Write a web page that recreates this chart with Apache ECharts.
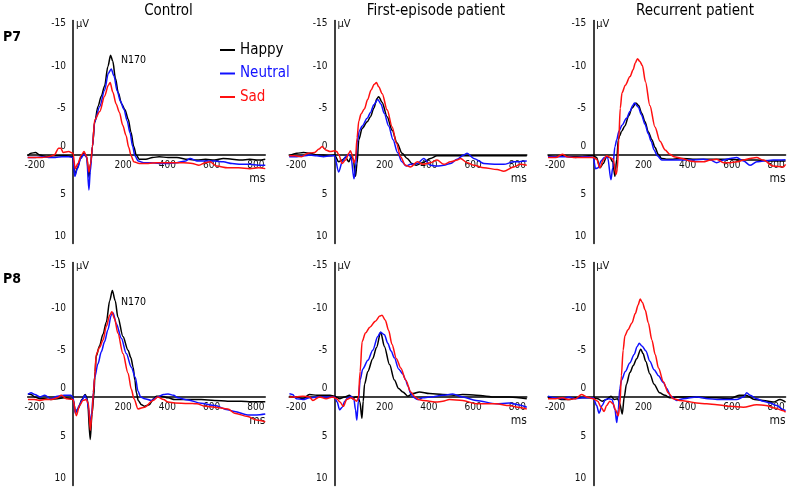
<!DOCTYPE html>
<html><head><meta charset="utf-8">
<script src="https://cdn.jsdelivr.net/npm/echarts@6/dist/echarts.min.js"></script>
<style>html,body{margin:0;padding:0;background:#fff}#c{width:788px;height:487px}</style>
</head><body><div id="c"></div>
<script>
// ---------- data ----------
const conditions = ['Happy', 'Neutral', 'Sad'];
const groups = ['Control', 'First-episode patient', 'Recurrent patient'];
const electrodes = ['P7', 'P8'];
const xTickValues = [-200, 200, 400, 600, 800];
const yTickValues = [-15, -10, -5, 0, 5, 10];
const peakLabel = 'N170';
const xUnit = 'ms';
const yUnit = 'μV';

const controlP7Happy = [[-205,0.1],[-190,-0.2],[-170,-0.3],[-150,0],[-120,0.2],[-90,0.1],[-60,0.1],[-30,0.1],[0,0.2],[8,2.3],[20,1.5],[35,0.3],[50,-0.2],[62,0.2],[72,2.6],[80,1.0],[88,-1.0],[98,-3.8],[113,-5.7],[128,-6.9],[143,-8.1],[158,-10.4],[170,-11.7],[180,-11.0],[192,-9.0],[205,-7.3],[220,-6.0],[235,-5.3],[250,-4.2],[262,-2.7],[275,-1.0],[286,0.0],[300,0.5],[330,0.5],[360,0.3],[390,0.2],[430,0.3],[470,0.3],[520,0.5],[560,0.6],[600,0.5],[640,0.6],[680,0.4],[720,0.5],[760,0.6],[800,0.5],[840,0.6],[870,0.5]];
const controlP7Neutral = [[-205,0.3],[-170,0.3],[-140,0.2],[-110,0.3],[-80,0.3],[-50,0.2],[-20,0.2],[0,0.3],[8,2.5],[20,1.6],[35,0.4],[50,-0.1],[62,0.3],[72,4.1],[78,2.0],[88,-1.0],[98,-3.9],[121,-5.7],[143,-7.6],[160,-9.6],[173,-10.1],[185,-9.3],[200,-7.5],[215,-6.3],[230,-5.4],[245,-4.0],[258,-2.6],[270,-1.0],[280,0.1],[295,0.7],[320,0.9],[350,0.9],[390,1.0],[430,1.0],[470,0.9],[510,0.7],[530,0.4],[560,0.7],[600,0.7],[640,0.7],[680,0.8],[720,1.0],[760,1.1],[800,1.1],[840,1.2],[870,1.2]];
const controlP7Sad = [[-205,0.3],[-170,0.3],[-140,0.3],[-110,0.2],[-85,0.0],[-65,-0.8],[-55,-0.8],[-45,-0.3],[-20,-0.4],[0,-0.2],[10,1.6],[22,1.0],[38,0.0],[50,-0.4],[62,0.2],[72,2.0],[80,1.0],[88,-1.0],[98,-4.1],[121,-5.1],[143,-6.9],[160,-8.2],[168,-8.5],[180,-7.4],[195,-6.0],[210,-5.0],[225,-3.5],[240,-2.3],[252,-0.9],[263,0.1],[275,0.8],[300,1.0],[340,1.0],[380,0.9],[420,0.9],[460,0.9],[500,0.9],[540,1.0],[570,1.2],[600,0.9],[620,0.8],[650,1.3],[700,1.5],[750,1.5],[800,1.6],[840,1.5],[870,1.6]];

const firstP7Happy = [[-205,0.1],[-170,-0.2],[-140,-0.3],[-110,-0.2],[-80,0.0],[-50,0.0],[-20,0.1],[0,0.0],[19,0.8],[35,0.6],[50,0.3],[65,0.8],[75,0.2],[85,0.5],[95,2.5],[102,1.0],[110,-1.8],[125,-3.1],[148,-3.9],[163,-4.5],[178,-5.5],[192,-6.6],[200,-6.85],[215,-6.2],[238,-4.5],[261,-2.9],[283,-1.4],[306,-0.2],[329,0.4],[350,1.0],[370,1.2],[400,0.9],[434,0.4],[464,0.1],[495,0.1],[530,0.1],[600,0.1],[700,0.1],[800,0.1],[870,0.1]];
const firstP7Neutral = [[-205,0.2],[-170,0.2],[-140,0.1],[-110,0.0],[-80,0.1],[-50,0.2],[-20,0.1],[0,0.1],[19,2.0],[35,0.8],[50,0.2],[65,-0.1],[75,0.3],[88,2.8],[95,1.5],[103,-1.5],[112,-2.8],[125,-3.4],[148,-4.3],[163,-5.0],[178,-5.9],[196,-6.5],[210,-6.0],[225,-4.9],[245,-3.4],[265,-1.8],[285,-0.3],[305,0.8],[325,1.3],[344,1.1],[374,1.0],[404,0.4],[434,1.2],[464,1.3],[495,1.2],[525,1.0],[555,0.5],[585,0.0],[600,-0.2],[630,0.4],[676,1.0],[736,1.1],[766,1.1],[811,0.8],[870,0.7]];
const firstP7Sad = [[-205,0.1],[-180,0.1],[-150,0.2],[-120,-0.2],[-90,-0.3],[-70,-0.7],[-56,-1.0],[-40,-0.6],[-20,-0.4],[0,-0.5],[10,-0.4],[20,0.0],[34,1.0],[50,0.6],[65,-0.2],[72,-0.5],[80,0.0],[88,0.9],[95,0.5],[102,-2.0],[110,-4.0],[120,-4.8],[135,-5.4],[150,-6.5],[165,-7.6],[180,-8.3],[190,-8.5],[200,-8.0],[216,-7.2],[238,-5.3],[261,-3.3],[280,-1.4],[299,0.2],[321,1.2],[344,1.4],[375,0.8],[400,1.1],[434,0.9],[464,0.6],[495,1.1],[525,0.8],[555,0.6],[570,0.4],[600,0.9],[630,1.2],[676,1.5],[736,1.7],[766,1.9],[811,1.4],[841,1.1],[870,1.2]];

const recurrentP7Happy = [[-205,0.1],[-170,0.2],[-140,0.1],[-110,0.2],[-80,0.2],[-50,0.2],[-20,0.1],[0,0.1],[15,0.3],[30,1.5],[45,1.0],[60,0.2],[75,0.3],[88,0.8],[98,2.5],[106,0.5],[113,-1.8],[120,-2.3],[128,-2.8],[143,-3.4],[160,-4.6],[175,-5.5],[193,-6.1],[205,-5.8],[219,-4.9],[234,-3.9],[249,-2.7],[265,-1.8],[279,-0.9],[294,-0.1],[309,0.4],[330,0.5],[360,0.5],[400,0.4],[450,0.5],[500,0.5],[560,0.5],[620,0.5],[680,0.6],[740,0.6],[800,0.7],[870,0.7]];
const recurrentP7Neutral = [[-205,0.2],[-170,0.2],[-140,0.2],[-110,0.2],[-80,0.3],[-50,0.2],[-20,0.2],[0,0.3],[10,1.6],[22,1.5],[35,0.7],[50,0.3],[65,0.3],[80,2.9],[88,1.5],[98,-1.0],[106,-1.8],[116,-2.8],[130,-3.5],[150,-4.3],[166,-5.1],[178,-5.8],[186,-6.1],[204,-5.6],[218,-4.7],[234,-3.6],[249,-2.5],[262,-1.6],[275,-0.6],[290,0.1],[310,0.6],[347,0.6],[400,0.6],[437,0.6],[498,0.5],[530,0.6],[558,0.9],[590,0.6],[619,0.4],[649,0.3],[680,0.7],[709,1.2],[740,0.8],[769,0.7],[814,0.6],[870,0.55]];
const recurrentP7Sad = [[-205,0.3],[-170,0.3],[-140,-0.1],[-120,0.2],[-90,0.3],[-60,0.3],[-30,0.3],[0,0.3],[15,0.5],[30,1.5],[45,0.6],[60,0.1],[75,0.3],[90,0.5],[103,2.3],[109,1.6],[115,-1.8],[122,-5.5],[130,-7.3],[145,-8.2],[166,-9.2],[180,-10.0],[190,-10.8],[200,-11.3],[210,-11.0],[222,-10.5],[236,-8.6],[256,-5.8],[279,-3.3],[302,-1.6],[325,-0.6],[345,-0.1],[365,0.2],[400,0.4],[437,0.7],[470,0.8],[498,0.8],[530,0.6],[558,0.5],[590,0.9],[620,0.9],[650,0.8],[680,0.6],[709,0.4],[739,0.3],[769,0.6],[814,1.3],[860,1.4],[870,1.1]];

const controlP8Happy = [[-204,-0.35],[-190,-0.3],[-173,0.0],[-150,0.2],[-128,0.2],[-100,0.3],[-70,0.2],[-40,0.1],[-10,0.2],[0,0.3],[12,1.8],[25,1.3],[40,0.3],[55,-0.3],[65,0.2],[78,5.0],[86,2.0],[94,0.0],[100,-3.0],[105,-4.8],[120,-6.0],[136,-7.4],[151,-8.8],[166,-11.3],[178,-12.5],[191,-11.3],[203,-9.4],[226,-7.1],[249,-5.5],[262,-4.6],[272,-3.5],[280,-2.0],[287,-0.5],[295,0.4],[310,0.9],[324,1.1],[345,0.9],[365,0.2],[377,-0.1],[400,-0.1],[430,0.1],[460,0.3],[520,0.3],[580,0.3],[641,0.4],[700,0.5],[760,0.5],[807,0.55],[870,0.55]];
const controlP8Neutral = [[-204,-0.3],[-190,-0.5],[-173,-0.3],[-150,0.0],[-128,-0.2],[-100,0.2],[-70,-0.1],[-40,-0.2],[-10,-0.2],[0,0.0],[10,1.9],[20,1.4],[30,0.9],[42,0.3],[53,-0.2],[62,0.2],[72,1.5],[78,3.4],[85,1.8],[92,-0.5],[98,-2.3],[113,-3.9],[128,-5.3],[143,-6.5],[158,-7.9],[173,-9.6],[181,-9.9],[196,-8.6],[219,-6.9],[241,-5.1],[264,-3.5],[282,-2.3],[294,-0.7],[306,0.0],[324,0.2],[354,0.4],[384,0.0],[410,-0.3],[430,-0.35],[455,-0.2],[475,0.1],[520,0.35],[580,0.74],[641,1.0],[700,1.5],[731,1.7],[791,2.1],[830,2.1],[870,2.0]];
const controlP8Sad = [[-204,0.3],[-173,0.3],[-150,0.4],[-128,0.3],[-100,0.3],[-70,0.1],[-53,-0.2],[-30,0.2],[0,0.3],[15,2.2],[30,1.0],[45,0.4],[60,0.3],[70,0.8],[78,3.9],[86,2.0],[92,-0.5],[98,-2.3],[105,-5.0],[120,-5.8],[136,-6.7],[151,-8.3],[166,-9.6],[176,-10.0],[188,-9.2],[203,-7.5],[226,-5.1],[249,-2.8],[264,-0.9],[276,0.2],[294,1.4],[324,1.2],[362,0.4],[384,0.0],[410,0.3],[430,0.6],[460,0.7],[520,0.75],[560,0.8],[600,1.1],[641,1.2],[701,1.4],[731,1.9],[791,2.3],[830,2.7],[870,2.9]];

const firstP8Happy = [[-204,-0.1],[-173,0.0],[-143,0.2],[-113,-0.3],[-80,-0.2],[-50,-0.2],[-20,-0.2],[0,-0.1],[23,0.2],[46,0.0],[68,-0.2],[83,0.2],[95,0.0],[106,0.0],[115,0.6],[124,2.5],[130,0.5],[136,-1.5],[151,-3.0],[173,-4.5],[190,-5.8],[209,-7.6],[226,-5.9],[249,-3.8],[271,-2.0],[290,-1.0],[309,-0.6],[332,-0.1],[355,-0.4],[384,-0.6],[430,-0.4],[490,-0.3],[540,-0.2],[580,-0.3],[641,-0.2],[731,0.0],[791,0.0],[870,0.2]];
const firstP8Neutral = [[-204,-0.4],[-190,-0.3],[-173,0.2],[-143,0.3],[-113,0.1],[-80,0.0],[-50,0.0],[-20,0.0],[0,0.0],[12,0.6],[23,1.5],[35,1.2],[46,0.5],[60,0.1],[75,-0.1],[88,0.3],[95,1.5],[101,2.7],[108,0.5],[116,-2.0],[128,-3.3],[151,-4.3],[173,-5.5],[196,-7.1],[208,-7.6],[226,-7.3],[241,-6.3],[256,-5.4],[271,-4.6],[290,-3.3],[309,-2.7],[322,-2.0],[332,-1.3],[345,-0.4],[355,0.0],[377,0.3],[400,0.1],[430,0.0],[490,-0.2],[535,-0.35],[580,0.0],[641,0.4],[731,0.8],[791,0.7],[830,0.9],[870,1.2]];
const firstP8Sad = [[-204,0.0],[-173,0.0],[-143,-0.1],[-113,0.0],[-98,0.4],[-68,0.0],[-38,0.2],[-8,0.0],[10,0.2],[25,0.6],[40,1.1],[55,0.3],[75,0.1],[90,0.3],[100,0.5],[108,0.1],[116,-3.0],[125,-6.5],[140,-7.5],[160,-8.2],[185,-8.9],[205,-9.5],[215,-9.6],[230,-9.0],[245,-7.8],[260,-6.2],[280,-4.5],[300,-3.4],[322,-2.0],[345,-0.6],[365,0.0],[380,0.3],[400,0.4],[430,0.5],[460,0.6],[490,0.5],[520,0.3],[580,0.4],[641,0.8],[731,0.8],[791,1.0],[830,1.2],[870,1.4]];

const recurrentP8Happy = [[-205,0.1],[-170,0.1],[-140,0.3],[-110,0.3],[-80,0.1],[-50,0.1],[-20,0.1],[0,0.1],[20,0.2],[40,0.5],[60,0.3],[80,-0.1],[95,0.3],[110,0.2],[120,0.8],[131,2.0],[140,0.0],[150,-1.5],[166,-2.9],[181,-3.7],[196,-4.5],[215,-5.6],[225,-5.1],[237,-4.2],[256,-2.7],[275,-1.5],[300,-0.5],[324,-0.2],[347,0.1],[377,0.0],[420,0.0],[468,0.0],[520,0.1],[558,0.1],[619,0.2],[660,-0.2],[690,-0.2],[730,0.3],[769,0.4],[814,0.6],[845,0.3],[870,0.6]];
const recurrentP8Neutral = [[-205,-0.1],[-170,0.1],[-140,0.2],[-110,0.0],[-80,0.2],[-50,0.1],[-20,0.1],[0,0.1],[15,1.0],[26,1.9],[40,1.0],[55,0.3],[70,0.2],[85,0.3],[98,1.5],[106,3.0],[113,1.5],[120,-1.0],[128,-2.0],[145,-3.0],[165,-4.0],[185,-5.0],[198,-5.9],[208,-6.3],[220,-6.0],[238,-5.4],[256,-4.2],[275,-3.2],[295,-2.5],[317,-1.7],[332,-1.0],[350,-0.1],[377,0.4],[407,0.2],[468,0.0],[520,0.2],[560,0.3],[619,0.3],[649,0.3],[680,0.0],[694,-0.5],[710,-0.2],[739,0.2],[769,0.5],[799,0.7],[830,1.0],[860,1.5],[870,1.6]];
const recurrentP8Sad = [[-205,0.2],[-170,0.2],[-140,0.1],[-110,0.3],[-80,0.2],[-53,-0.3],[-30,0.0],[0,0.2],[20,0.5],[35,1.2],[49,1.7],[60,1.0],[75,0.5],[90,0.8],[100,1.5],[113,2.2],[120,1.0],[127,-2.5],[135,-5.5],[143,-7.2],[157,-7.9],[175,-8.7],[190,-9.8],[203,-10.8],[212,-11.5],[222,-11.1],[235,-10.2],[249,-8.7],[265,-6.7],[280,-5.0],[295,-3.4],[317,-1.8],[339,-0.5],[362,0.2],[390,0.4],[420,0.5],[468,0.7],[513,0.8],[560,0.9],[619,1.1],[679,1.2],[739,0.9],[780,1.0],[820,1.3],[860,1.6],[870,1.8]];

const panelData = [
  [[controlP7Happy, controlP7Neutral, controlP7Sad], [firstP7Happy, firstP7Neutral, firstP7Sad], [recurrentP7Happy, recurrentP7Neutral, recurrentP7Sad]],
  [[controlP8Happy, controlP8Neutral, controlP8Sad], [firstP8Happy, firstP8Neutral, firstP8Sad], [recurrentP8Happy, recurrentP8Neutral, recurrentP8Sad]]
];

// ---------- layout & style ----------
const COLORS = ['#000000', '#1010ff', '#ff1010'];
const FONT = '"DejaVu Sans Condensed", "Liberation Sans Narrow", "DejaVu Sans", sans-serif';
const colAxisX = [73, 334.5, 593.3];
const rowZeroY = [155, 397];
const PX_PER_MS = 0.221, PX_PER_UV = 8.52;
const X_MIN = -205, X_MAX = 870, Y_MIN = -15.8, Y_MAX = 10.4;
const TICK_FS = 10;

const grids = [], xAxes = [], yAxes = [], series = [], graphics = [];
let gi = 0;
for (let r = 0; r < 2; r++) {
  for (let c = 0; c < 3; c++) {
    const ax = colAxisX[c], y0 = rowZeroY[r];
    grids.push({
      left: ax + X_MIN * PX_PER_MS, width: (X_MAX - X_MIN) * PX_PER_MS,
      top: y0 + Y_MIN * PX_PER_UV, height: (Y_MAX - Y_MIN) * PX_PER_UV,
      containLabel: false, outerBoundsMode: 'none'
    });
    // x axis drawn through the zero of the voltage scale
    xAxes.push({
      type: 'value', gridIndex: gi, min: X_MIN, max: X_MAX,
      position: 'bottom', offset: -Y_MAX * PX_PER_UV,
      axisLine: { onZero: false, lineStyle: { color: '#000', width: 1.5 } },
      axisTick: { show: false }, splitLine: { show: false },
      axisLabel: {
        customValues: xTickValues, color: '#111', fontFamily: FONT, fontSize: TICK_FS,
        margin: 5, padding: [0, 0, 0, 12]
      }
    });
    // y axis drawn through stimulus onset (0 ms)
    yAxes.push({
      type: 'value', gridIndex: gi, min: Y_MIN, max: Y_MAX, inverse: true,
      position: 'left', offset: X_MIN * PX_PER_MS,
      axisLine: { onZero: false, lineStyle: { color: '#000', width: 1.5 } },
      axisTick: { show: false }, splitLine: { show: false },
      axisLabel: {
        customValues: yTickValues, color: '#111', fontFamily: FONT, fontSize: TICK_FS, margin: 7,
        formatter: v => v === 0 ? '{z|0}' : '{n|' + v + '}',
        rich: {
          n: { padding: [0, 0, 7, 0], fontFamily: FONT, fontSize: TICK_FS, color: '#111' },
          z: { padding: [0, 0, 17, 0], fontFamily: FONT, fontSize: TICK_FS, color: '#111' }
        }
      }
    });
    const curves = panelData[r][c];
    for (let k = 0; k < 3; k++) {
      series.push({
        name: conditions[k], type: 'line', xAxisIndex: gi, yAxisIndex: gi,
        data: curves[k], showSymbol: false, symbol: 'none',
        smooth: 0.3, smoothMonotone: 'x', silent: true,
        lineStyle: { color: COLORS[k], width: 1.5 }, itemStyle: { color: COLORS[k] },
        z: 3 + k
      });
    }
    graphics.push({ type: 'text', x: ax + 3, y: y0 - 130.5,
      style: { text: yUnit, font: '11px ' + FONT, fill: '#111', align: 'left', verticalAlign: 'middle' } });
    graphics.push({ type: 'text', x: ax + X_MAX * PX_PER_MS, y: y0 + 23.5,
      style: { text: xUnit, font: '12px ' + FONT, fill: '#111', align: 'right', verticalAlign: 'middle' } });
    gi++;
  }
}
const titleX = [168.5, 436, 695];
groups.forEach((g, i) => graphics.push({ type: 'text', x: titleX[i], y: 11,
  style: { text: g, font: '15px ' + FONT, fill: '#000', align: 'center', verticalAlign: 'middle' } }));
electrodes.forEach((e, i) => graphics.push({ type: 'text', x: 3, y: rowZeroY[i] - 118,
  style: { text: e, font: 'bold 14px ' + FONT, fill: '#000', align: 'left', verticalAlign: 'middle' } }));
rowZeroY.forEach(y0 => graphics.push({ type: 'text', x: 133.5, y: y0 - 95,
  style: { text: peakLabel, font: '10.5px ' + FONT, fill: '#000', align: 'center', verticalAlign: 'middle' } }));

const chart = echarts.init(document.getElementById('c'), null, { renderer: 'canvas' });
chart.setOption({
  animation: false,
  backgroundColor: '#fff',
  grid: grids, xAxis: xAxes, yAxis: yAxes, series: series,
  legend: {
    orient: 'vertical', left: 220, top: 42, padding: 0, itemWidth: 15, itemHeight: 2, itemGap: 7.5,
    icon: 'rect', selectedMode: false,
    textStyle: { fontFamily: FONT, fontSize: 15, lineHeight: 16 },
    data: conditions.map((n, k) => ({ name: n, itemStyle: { color: COLORS[k] }, textStyle: { color: COLORS[k] } }))
  },
  graphic: graphics
});
</script>
</body></html>
